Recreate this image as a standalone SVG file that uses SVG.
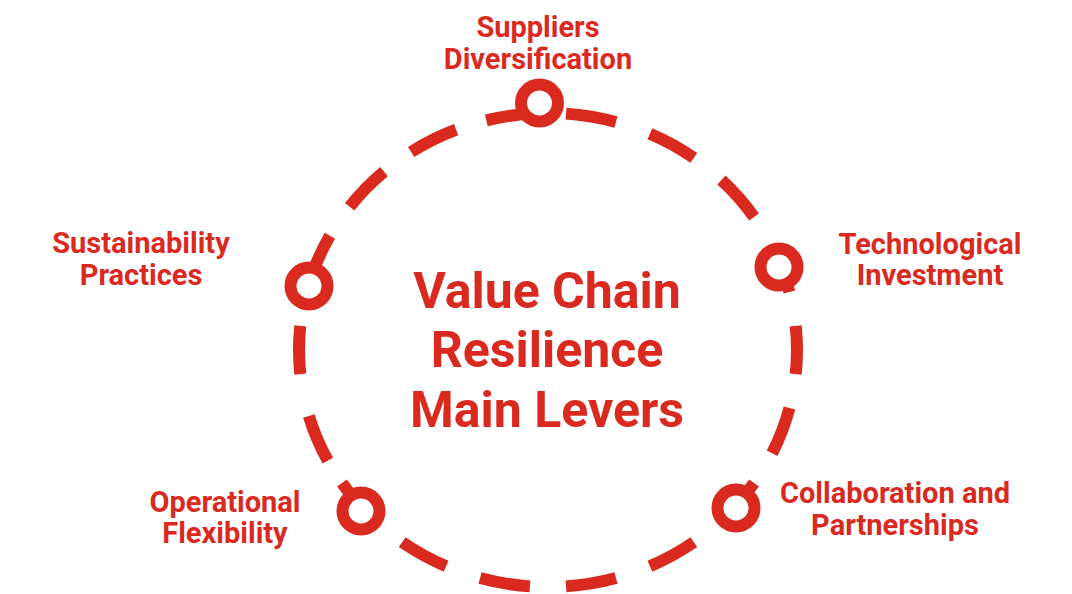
<svg xmlns="http://www.w3.org/2000/svg" width="1072" height="594" viewBox="0 0 1072 594">
  <style>
    .dash { fill: none; stroke: #DA291F; stroke-width: 12; stroke-linecap: butt; }
    .node { fill: #FFFFFF; stroke: #DA291F; stroke-width: 12; }
    .label { font-family: Roboto, "Liberation Sans", sans-serif; font-weight: 700; font-size: 29px; fill: #DA291F; text-anchor: middle; }
    .title { font-family: Roboto, "Liberation Sans", sans-serif; font-weight: 700; font-size: 50px; fill: #DA291F; text-anchor: middle; }
  </style>
  <rect width="1072" height="594" fill="#FFFFFF"/>
  <g id="connectors">
    <path class="dash" d="M 795.7 325.9 A 249 237 0 0 1 795.7 374.1"/>
    <path class="dash" d="M 789.43 407.98 A 249 237 0 0 1 772.11 453.3"/>
    <path class="dash" d="M 754.05 483.07 A 249 237 0 0 1 721.47 520.02"/>
    <path class="dash" d="M 693.8 542.12 A 249 237 0 0 1 649.91 566.24"/>
    <path class="dash" d="M 615.96 578 A 249 237 0 0 1 566.06 586.38"/>
    <path class="dash" d="M 529.94 586.38 A 249 237 0 0 1 480.04 578"/>
    <path class="dash" d="M 446.09 566.24 A 249 237 0 0 1 402.2 542.12"/>
    <path class="dash" d="M 374.53 520.02 A 249 237 0 0 1 341.95 483.07"/>
    <path class="dash" d="M 327.82 460.69 A 249 237 0 0 1 308.84 415.96"/>
    <path class="dash" d="M 300.29 374.11 A 249 237 0 0 1 300.29 325.89"/>
    <path class="dash" d="M 310.1 280.07 A 249 237 0 0 1 329.89 235.68"/>
    <path class="dash" d="M 349.64 206.74 A 249 237 0 0 1 384.05 171.63"/>
    <path class="dash" d="M 411.17 151.99 A 249 237 0 0 1 456.1 129.73"/>
    <path class="dash" d="M 486.33 120.39 A 249 237 0 0 1 536.44 113.26"/>
    <path class="dash" d="M 566.06 113.62 A 249 237 0 0 1 615.96 122"/>
    <path class="dash" d="M 649.91 133.76 A 249 237 0 0 1 693.8 157.88"/>
    <path class="dash" d="M 721.47 179.98 A 249 237 0 0 1 754.05 216.93"/>
    <path class="dash" d="M 772.11 246.7 A 249 237 0 0 1 789.43 292.02"/>
  </g>
  <g id="center-title">
    <text class="title" x="547" y="308">Value Chain</text>
    <text class="title" x="547" y="367">Resilience</text>
    <text class="title" x="547" y="427">Main Levers</text>
  </g>
  <g id="node-suppliers">
    <circle class="node" cx="539.5" cy="103" r="18.5"/>
    <text class="label" x="538" y="37">Suppliers</text>
    <text class="label" x="538" y="69">Diversification</text>
  </g>
  <g id="node-technological">
    <circle class="node" cx="779" cy="267" r="18.5"/>
    <text class="label" x="930" y="254">Technological</text>
    <text class="label" x="930" y="285">Investment</text>
  </g>
  <g id="node-collaboration">
    <circle class="node" cx="736" cy="508" r="18.5"/>
    <text class="label" x="895" y="503">Collaboration and</text>
    <text class="label" x="895" y="535">Partnerships</text>
  </g>
  <g id="node-operational">
    <circle class="node" cx="361" cy="511" r="18.5"/>
    <text class="label" x="225" y="512">Operational</text>
    <text class="label" x="225" y="543">Flexibility</text>
  </g>
  <g id="node-sustainability">
    <circle class="node" cx="309" cy="286" r="18.5"/>
    <text class="label" x="141" y="253">Sustainability</text>
    <text class="label" x="141" y="285">Practices</text>
  </g>
</svg>
